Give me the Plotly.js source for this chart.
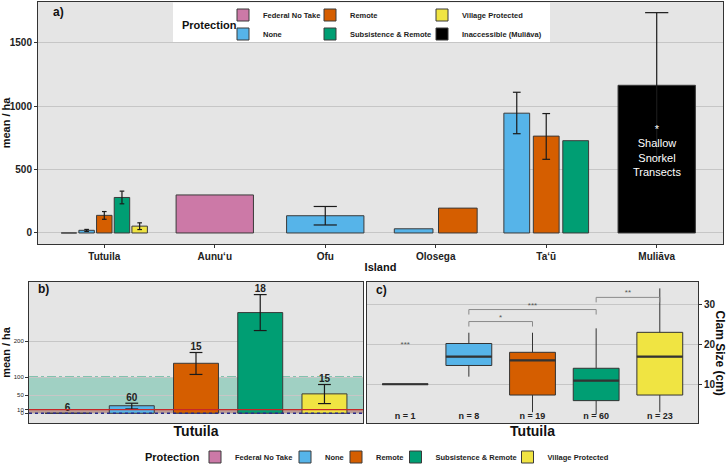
<!DOCTYPE html>
<html><head><meta charset="utf-8">
<script src="https://cdn.plot.ly/plotly-3.0.1.min.js"></script>
<style>html,body{margin:0;padding:0;background:#fff}</style>
</head><body><div id="chart" style="width:726px;height:466px"></div>
<script>
// ---------------- DATA ----------------
const islands = ["Tutuila", "Aunuʻu", "Ofu", "Olosega", "Taʻū", "Muliāva"];
const protections = ["Federal No Take", "None", "Remote", "Subsistence & Remote", "Village Protected", "Inaccessible (Muliāva)"];
const protColors = ["#CC79A7", "#56B4E9", "#D55E00", "#009E73", "#F0E442", "#000000"];

// panel a: mean clams / ha by island, one array per protection class
const meanFNT     = [0,   300,  null, null, null, null];
const meanNone    = [21,  null, 136,  33,   945,  null];
const meanRemote  = [139, null, null, 196,  764,  null];
const meanSR      = [280, null, null, null, 728,  null];
const meanVillage = [54,  null, null, null, null, null];
const meanInacc   = [null, null, null, null, null, 1165];
// error bar ends
const loFNT = [null, null, null, null, null, null];
const hiFNT = [null, null, null, null, null, null];
const loNone = [12, null, 63, null, 783, null];
const hiNone = [28, null, 209, null, 1110, null];
const loRemote = [108, null, null, null, 581, null];
const hiRemote = [169, null, null, null, 942, null];
const loSR = [230, null, null, null, null, null];
const hiSR = [330, null, null, null, null, null];
const loVillage = [27, null, null, null, null, null];
const hiVillage = [80, null, null, null, null, null];
const loInacc = [null, null, null, null, null, 592];
const hiInacc = [null, null, null, null, null, 1738];

// panel b: Tutuila sample sizes (transects) per protection
const tutuilaN = [6, 60, 15, 18, 15];
// panel b reference thresholds (mean / ha)
const greenBandTop = 100;
const redLineValue = 10;
const dottedLineValue = 0;

// panel c: Tutuila clam size (cm) box statistics
const boxLow  = [10, 11.9, 3,   2.5,  3];
const boxQ1   = [10, 14.7, 7.3, 5.9,  7.3];
const boxMed  = [10, 16.9, 16,  10.9, 16.9];
const boxQ3   = [10, 20.2, 18,  14,   23];
const boxHigh = [10, 22.9, 22.9, 24,  34];
const boxN    = [1, 8, 19, 60, 23];
const sigPairs  = [[2, 3], [2, 4], [4, 5]];
const sigLevel  = [25.7, 28.7, 31.75];
const sigLabels = ["*", "***", "**"];
const singleSigLabel = "***";
const singleSigLevel = 20.1;

// ---------------- BUILD ----------------
const FONT = "Liberation Sans, Arial, sans-serif";
const BG = "#E5E5E5", GRID = "#C6C6C6", FRAME = "#333333", OUTLINE = "#3a3a3a", ERR = "#1a1a1a";
const meanByProt = [meanFNT, meanNone, meanRemote, meanSR, meanVillage, meanInacc];
const loByProt = [loFNT, loNone, loRemote, loSR, loVillage, loInacc];
const hiByProt = [hiFNT, hiNone, hiRemote, hiSR, hiVillage, hiInacc];
const legendA = ["legend", "legend", "legend2", "legend2", "legend3", "legend3"];

const DODGE = 0.8, BARW = 0.7, CAPFRAC = 0.3;
const pos = meanByProt.map(() => islands.map(() => null));
const wid = meanByProt.map(() => islands.map(() => null));
islands.forEach((isl, j) => {
  const present = [];
  meanByProt.forEach((m, p) => { if (m[j] !== null) present.push(p); });
  const n = present.length;
  present.forEach((p, k) => {
    pos[p][j] = (j + 1) - DODGE / 2 + DODGE / n * (k + 0.5);
    wid[p][j] = BARW / n;
  });
});

function addErr(X, Y, xc, lo, hi, half) {
  X.push(xc, xc, null, xc - half, xc + half, null, xc - half, xc + half, null);
  Y.push(lo, hi, null, hi, hi, null, lo, lo, null);
}

const traces = [];
// panel a bars
const errAX = [], errAY = [];
meanByProt.forEach((m, p) => {
  const xs = [], ys = [], ws = [];
  m.forEach((v, j) => {
    if (v === null) return;
    xs.push(pos[p][j]); ys.push(v); ws.push(wid[p][j]);
    if (loByProt[p][j] !== null) addErr(errAX, errAY, pos[p][j], loByProt[p][j], hiByProt[p][j], wid[p][j] * CAPFRAC / 2);
  });
  traces.push({type: "bar", name: protections[p], x: xs, y: ys, width: ws,
    marker: {color: protColors[p], line: {color: OUTLINE, width: 1}},
    xaxis: "x", yaxis: "y", legend: legendA[p], showlegend: true, hoverinfo: "skip"});
});
traces.push({type: "scatter", mode: "lines", x: errAX, y: errAY, line: {color: ERR, width: 1.2},
  xaxis: "x", yaxis: "y", showlegend: false, hoverinfo: "skip"});

// panel b bars (Tutuila)
const errBX = [], errBY = [], labX = [], labY = [], labT = [];
for (let p = 0; p < 5; p++) {
  const v = meanByProt[p][0];
  traces.push({type: "bar", name: protections[p], x: [p + 1], y: [v], width: BARW,
    marker: {color: protColors[p], line: {color: OUTLINE, width: 1}},
    xaxis: "x2", yaxis: "y2", legend: "legend" + (4 + p), showlegend: true, hoverinfo: "skip"});
  if (loByProt[p][0] !== null) addErr(errBX, errBY, p + 1, loByProt[p][0], hiByProt[p][0], 0.1);
  labX.push(p + 1); labY.push(hiByProt[p][0] !== null ? hiByProt[p][0] : v); labT.push(String(tutuilaN[p]));
}
traces.push({type: "scatter", mode: "lines", x: errBX, y: errBY, line: {color: ERR, width: 1.2},
  xaxis: "x2", yaxis: "y2", showlegend: false, hoverinfo: "skip"});
traces.push({type: "scatter", mode: "text", x: labX, y: labY, text: labT, textposition: "top center",
  textfont: {family: FONT, size: 10, weight: "bold", color: "#222"},
  xaxis: "x2", yaxis: "y2", showlegend: false, hoverinfo: "skip"});

// panel c boxes
const medX = [], medY = [];
const BOXW = 0.72;
for (let p = 0; p < 5; p++) {
  traces.push({type: "box", x: [p + 1], q1: [boxQ1[p]], median: [boxMed[p]], q3: [boxQ3[p]],
    lowerfence: [boxLow[p]], upperfence: [boxHigh[p]], width: BOXW, whiskerwidth: 0,
    fillcolor: protColors[p], line: {color: FRAME, width: 1}, boxpoints: false,
    xaxis: "x3", yaxis: "y3", showlegend: false, hoverinfo: "skip"});
  medX.push(p + 1 - BOXW / 2, p + 1 + BOXW / 2, null);
  medY.push(boxMed[p], boxMed[p], null);
}
traces.push({type: "scatter", mode: "lines", x: medX, y: medY, line: {color: FRAME, width: 2.2},
  xaxis: "x3", yaxis: "y3", showlegend: false, hoverinfo: "skip"});
// significance brackets
const brX = [], brY = [], stX = [], stY = [], stT = [];
sigPairs.forEach((pr, i) => {
  const y = sigLevel[i], drop = 1.25;
  brX.push(pr[0], pr[0], pr[1], pr[1], null);
  brY.push(y - drop, y, y, y - drop, null);
  stX.push((pr[0] + pr[1]) / 2); stY.push(y); stT.push(sigLabels[i]);
});
stX.push(1); stY.push(singleSigLevel - 1.2); stT.push(singleSigLabel);
traces.push({type: "scatter", mode: "lines", x: brX, y: brY, line: {color: "#8a8a8a", width: 1},
  xaxis: "x3", yaxis: "y3", showlegend: false, hoverinfo: "skip"});
traces.push({type: "scatter", mode: "text", x: stX, y: stY, text: stT, textposition: "top center",
  textfont: {family: FONT, size: 8, color: "#555"},
  xaxis: "x3", yaxis: "y3", showlegend: false, hoverinfo: "skip"});
traces.push({type: "scatter", mode: "text", x: [1, 2, 3, 4, 5], y: [1.9, 1.9, 1.9, 1.9, 1.9],
  text: boxN.map(n => "n = " + n), textposition: "middle center",
  textfont: {family: FONT, size: 9, weight: "bold", color: "#222"},
  xaxis: "x3", yaxis: "y3", showlegend: false, hoverinfo: "skip"});

// ---------------- LAYOUT ----------------
const W = 726, H = 466;
const px = v => v / W, py = v => 1 - v / H;
function ax(extra) {
  return Object.assign({showline: true, mirror: true, linecolor: FRAME, linewidth: 1, zeroline: false,
    ticks: "outside", ticklen: 3, tickcolor: FRAME, tickwidth: 1, fixedrange: true, automargin: false,
    tickfont: {family: FONT, size: 10, weight: "bold", color: "#222"}}, extra);
}
const titleFont = s => ({family: FONT, size: s, weight: "bold", color: "#111"});
function leg(x, y) {
  return {x: x, y: y, xanchor: "left", yanchor: "top", orientation: "v", bgcolor: "rgba(0,0,0,0)",
    font: {family: FONT, size: 7.5, weight: "bold", color: "#222"}, itemclick: false, itemdoubleclick: false,
    traceorder: "normal"};
}
const layout = {
  width: W, height: H, margin: {l: 0, r: 0, t: 0, b: 0, pad: 0, autoexpand: false},
  paper_bgcolor: "#fff", plot_bgcolor: BG, barmode: "overlay", hovermode: false,
  font: {family: FONT},
  xaxis: ax({domain: [px(38), px(723)], range: [0.4, 6.6], anchor: "y", tickmode: "array",
    tickvals: [1, 2, 3, 4, 5, 6], ticktext: islands, showgrid: false,
    title: {text: "Island", font: titleFont(11), standoff: 2}}),
  yaxis: ax({domain: [py(244), py(2)], range: [-87, 1822], anchor: "x", tickmode: "array",
    tickvals: [0, 500, 1000, 1500], showgrid: true, gridcolor: GRID, gridwidth: 1,
    title: {text: "mean / ha", font: titleFont(11), standoff: 1}}),
  xaxis2: ax({domain: [px(29), px(363)], range: [0.4, 5.6], anchor: "y2", showticklabels: false,
    ticks: "", showgrid: false, title: {text: "Tutuila", font: titleFont(14), standoff: 3}}),
  yaxis2: ax({domain: [py(423), py(282)], range: [-27, 365], anchor: "x2", tickmode: "array",
    tickvals: [0, 10, 50, 100, 200], showgrid: true, gridcolor: GRID,
    tickfont: {family: FONT, size: 6, color: "#222"},
    title: {text: "mean / ha", font: titleFont(11), standoff: 2}}),
  xaxis3: ax({domain: [px(367), px(698)], range: [0.4, 5.6], anchor: "y3", showticklabels: false,
    ticks: "", showgrid: false, title: {text: "Tutuila", font: titleFont(14), standoff: 3}}),
  yaxis3: ax({domain: [py(423), py(282)], range: [0.3, 35.6], anchor: "x3", side: "right",
    tickmode: "array", tickvals: [10, 20, 30], showgrid: true, gridcolor: GRID}),
  legend: leg(px(223), py(0.5)),
  legend2: leg(px(310), py(0.5)),
  legend3: leg(px(422), py(0.5)),
  legend4: leg(px(195), py(442.5)),
  legend5: leg(px(285), py(442.5)),
  legend6: leg(px(336), py(442.5)),
  legend7: leg(px(395.5), py(442.5)),
  legend8: leg(px(507.5), py(442.5)),
  shapes: [
    {type: "rect", xref: "paper", yref: "paper", x0: px(173), x1: px(550), y0: py(42), y1: py(2.5),
      fillcolor: "#ffffff", line: {width: 0}, layer: "above"},
    {type: "rect", xref: "x2 domain", yref: "y2", x0: 0, x1: 1, y0: dottedLineValue, y1: greenBandTop,
      fillcolor: "rgba(0,158,115,0.30)", line: {width: 0}, layer: "below"},
    {type: "rect", xref: "x2 domain", yref: "y2", x0: 0, x1: 1, y0: dottedLineValue, y1: redLineValue,
      fillcolor: "rgba(235,60,60,0.35)", line: {width: 0}, layer: "below"},
    {type: "line", xref: "x2 domain", yref: "y2", x0: 0, x1: 1, y0: greenBandTop, y1: greenBandTop,
      line: {color: "#22A07A", width: 1.6, dash: "dashdot"}, layer: "below"},
    {type: "line", xref: "x2 domain", yref: "y2", x0: 0, x1: 1, y0: redLineValue, y1: redLineValue,
      line: {color: "#C62828", width: 1.2}, layer: "above"},
    {type: "line", xref: "x2 domain", yref: "y2", x0: 0, x1: 1, y0: dottedLineValue, y1: dottedLineValue,
      line: {color: "#2A2A8A", width: 1.6, dash: "dot"}, layer: "above"}
  ],
  annotations: [
    {text: "a)", xref: "paper", yref: "paper", x: px(51), y: py(12), xanchor: "left", yanchor: "middle",
      showarrow: false, font: titleFont(12)},
    {text: "b)", xref: "paper", yref: "paper", x: px(36), y: py(289), xanchor: "left", yanchor: "middle",
      showarrow: false, font: titleFont(12)},
    {text: "c)", xref: "paper", yref: "paper", x: px(374), y: py(290), xanchor: "left", yanchor: "middle",
      showarrow: false, font: titleFont(12)},
    {text: "Protection", xref: "paper", yref: "paper", x: px(209), y: py(25), xanchor: "center", yanchor: "middle",
      showarrow: false, font: titleFont(11)},
    {text: "Protection", xref: "paper", yref: "paper", x: px(172), y: py(457), xanchor: "center", yanchor: "middle",
      showarrow: false, font: titleFont(11)},
    {text: "Clam Size (cm)", xref: "paper", yref: "paper", x: px(719.5), y: py(353), xanchor: "center", yanchor: "middle",
      textangle: 90, showarrow: false, font: titleFont(12)},
    {text: "*<br>Shallow<br>Snorkel<br>Transects", xref: "x", yref: "y", x: 6, y: 650, xanchor: "center", yanchor: "middle",
      showarrow: false, font: {family: FONT, size: 11, color: "#ffffff"}}
  ]
};

Plotly.newPlot("chart", traces, layout, {staticPlot: true, displayModeBar: false});
</script>
</body></html>
